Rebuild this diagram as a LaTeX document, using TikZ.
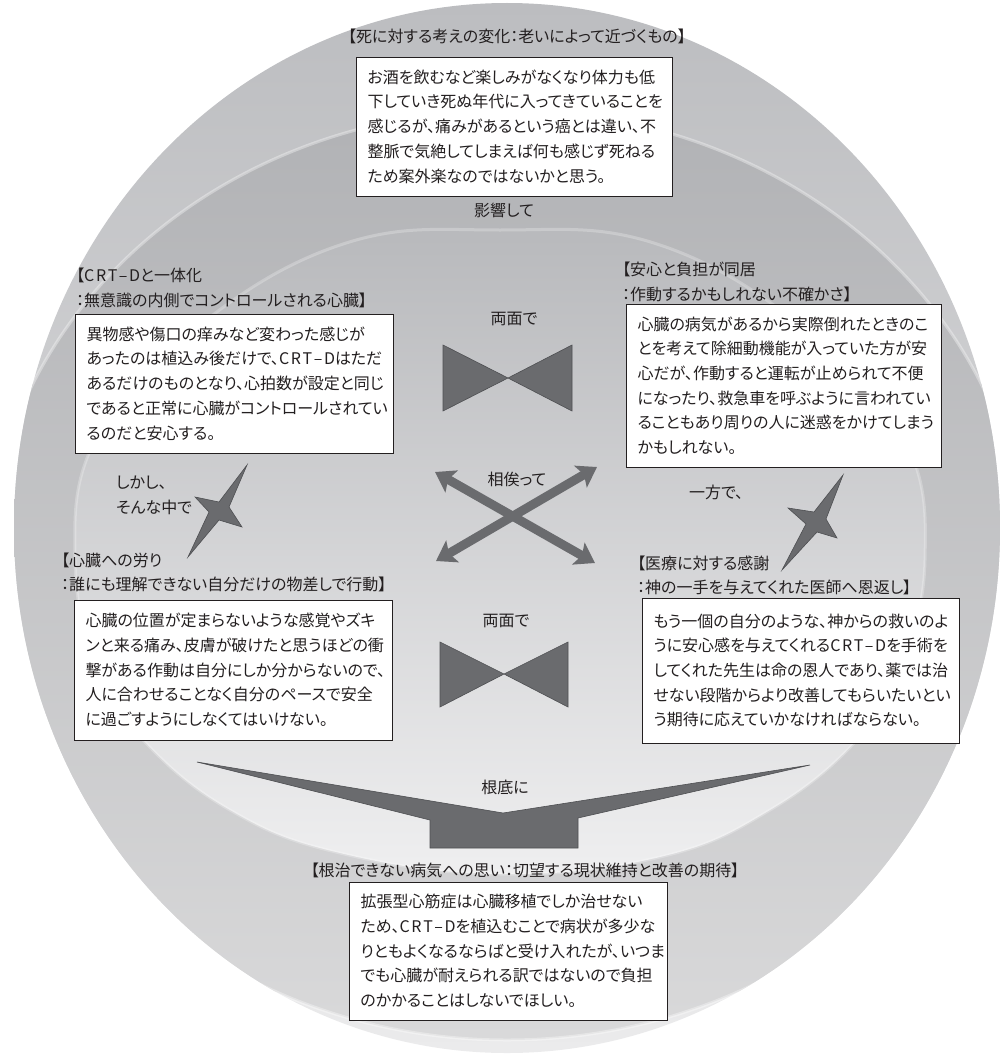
\documentclass[tikz,border=0pt]{standalone}
\usepackage{fontspec}
\setmainfont{Noto Sans CJK JP}[RawFeature={+palt}]
\usetikzlibrary{arrows.meta}
\definecolor{txt}{HTML}{231F20}
\definecolor{shapegray}{HTML}{6A6B6E}
\definecolor{shapeedge}{HTML}{4E4F52}
\definecolor{bgA}{HTML}{BCBDC0}
\definecolor{bgAb}{HTML}{EBEBEC}
\definecolor{bgB}{HTML}{B1B2B5}
\definecolor{bgBb}{HTML}{D9D9DA}
\definecolor{bgC}{HTML}{B8B9BC}
\definecolor{bgCb}{HTML}{EFEFF0}
\newcommand{\CRTD}{\mbox{C\kern1.6pt R\kern1.6pt T\kern1.6pt –\kern1.6pt D}}
\tikzset{
  textbox/.style={draw=txt, line width=0.8pt, fill=white, align=left,
    inner xsep=11.5pt, inner ysep=0pt, text=txt,
    font=\fontsize{16pt}{24.7pt}\selectfont},
  lbl/.style={inner sep=0pt, text=txt, font=\fontsize{16pt}{24.7pt}\selectfont},
  ttl/.style={lbl, align=left, anchor=west},
  shapefill/.style={fill=shapegray, draw=shapeedge, line width=0.6pt, line join=miter},
  dblarrow/.style={draw=shapegray, line width=9pt,
    {Stealth[length=19pt,width=25pt,inset=4pt]}-{Stealth[length=19pt,width=25pt,inset=4pt]}},
  edgeglow/.style={draw=white, opacity=0.35, line width=3pt}
}
\begin{document}
\begin{tikzpicture}[x=1pt,y=-1pt]
\useasboundingbox (0,0) rectangle (1001,1057);
% background layers
\shade[top color=bgA, bottom color=bgAb] (507,528) ellipse [x radius=493, y radius=525];
\begin{scope}
  \clip (507,528) ellipse [x radius=493, y radius=525];
  \shade[top color=bgB, bottom color=bgBb] (507,575) ellipse [x radius=520, y radius=465];
  \path[edgeglow] (507,575) ellipse [x radius=520, y radius=465];
\end{scope}
\shade[top color=bgC, bottom color=bgCb] plot[smooth cycle, tension=0.7] coordinates {
  (500,230) (660,245) (813,335) (905,440) (925,560) (900,670) (857,740) (770,810)
  (660,857) (500,874) (340,853) (230,810) (143,740) (98,670) (75,560) (95,440)
  (187,335) (340,245)};
\path[edgeglow, opacity=0.25] plot[smooth cycle, tension=0.7] coordinates {
  (500,230) (660,245) (813,335) (905,440) (925,560) (900,670) (857,740) (770,810)
  (660,857) (500,874) (340,853) (230,810) (143,740) (98,670) (75,560) (95,440)
  (187,335) (340,245)};

% top
\node[lbl] (ttop) at (517,36) {【死に対する考えの変化：老いによって近づくもの】};
\node[textbox, minimum width=316pt, minimum height=139pt, text width=293pt] (btop) at (514,126.5) {%
お酒を飲むなど楽しみがなくなり体力も低\\
下していき死ぬ年代に入ってきていることを\\
感じるが、痛みがあるという癌とは違い、不\\
整脈で気絶してしまえば何も感じず死ねる\\
ため案外楽なのではないかと思う。};
\node[lbl] (linf) at (504,210) {影響して};

% left top
\node[ttl] (tlt) at (76,288) {【\CRTD と一体化\\：無意識の内側でコントロールされる心臓】};
\node[textbox, minimum width=318pt, minimum height=139pt, text width=295pt] (blt) at (234,383.5) {%
異物感や傷口の痒みなど変わった感じが\\
あったのは植込み後だけで、\CRTD はただ\\
あるだけのものとなり、心拍数が設定と同じ\\
であると正常に心臓がコントロールされてい\\
るのだと安心する。};

% right top
\node[ttl] (trt) at (622,282) {【安心と負担が同居\\：作動するかもしれない不確かさ】};
\node[textbox, minimum width=315pt, minimum height=163pt, text width=292pt] (brt) at (783.5,385.5) {%
心臓の病気があるから実際倒れたときのこ\\
とを考えて除細動機能が入っていた方が安\\
心だが、作動すると運転が止められて不便\\
になったり、救急車を呼ぶように言われてい\\
ることもあり周りの人に迷惑をかけてしまう\\
かもしれない。};

% center
\node[lbl] (lboth1) at (514,319) {両面で};
\fill[shapefill] (443,345) -- (508,378) -- (572,345) -- (572,411) -- (508,378) -- (443,411) -- cycle;
\node[lbl] (lmutual) at (517,479) {相俟って};
\coordinate (a1s) at (435,472);
\coordinate (a1e) at (595,563);
\coordinate (a2s) at (436,561);
\coordinate (a2e) at (597,467);
\draw[dblarrow] (a1s) -- (a1e);
\draw[dblarrow] (a2s) -- (a2e);
\node[lbl] (lboth2) at (506,621) {両面で};
\fill[shapefill] (440,642) -- (504,674) -- (568,642) -- (568,707) -- (504,674) -- (440,707) -- cycle;

% left star
\node[ttl] (lhowever) at (116,495) {しかし、\\そんな中で};
\fill[shapefill] (247,465) -- (229,507) -- (242,527) -- (219,520) -- (188,557) -- (209,512) -- (195,497) -- (219,502) -- cycle;

% right star
\node[lbl, anchor=west] (lother) at (689,492) {一方で、};
\fill[shapefill] (843,475) -- (826,519) -- (837,538) -- (817,532) -- (782,570) -- (806,524) -- (788,508) -- (814,512) -- cycle;

% left bottom
\node[ttl] (tlb) at (61,572.5) {【心臓への労り\\：誰にも理解できない自分だけの物差しで行動】};
\node[textbox, minimum width=318pt, minimum height=140pt, text width=295pt] (blb) at (233,670) {%
心臓の位置が定まらないような感覚やズキ\\
ンと来る痛み、皮膚が破けたと思うほどの衝\\
撃がある作動は自分にしか分からないので、\\
人に合わせることなく自分のペースで安全\\
に過ごすようにしなくてはいけない。};

% right bottom
\node[ttl] (trb) at (637,575.5) {【医療に対する感謝\\：神の一手を与えてくれた医師へ恩返し】};
\node[textbox, minimum width=317pt, minimum height=145pt, text width=294pt] (brb) at (800.5,670.5) {%
もう一個の自分のような、神からの救いのよ\\
うに安心感を与えてくれる\CRTD を手術を\\
してくれた先生は命の恩人であり、薬では治\\
せない段階からより改善してもらいたいとい\\
う期待に応えていかなければならない。};

% funnel
\fill[shapefill] (197,762) -- (503,813) -- (810,765) -- (578,818) -- (578,848) -- (430,848) -- (430,820) -- cycle;
\node[lbl] (lroot) at (505,787) {根底に};

% bottom
\node[lbl] (tbot) at (525,870) {【根治できない病気への思い：切望する現状維持と改善の期待】};
\node[textbox, minimum width=318pt, minimum height=138pt, text width=295pt] (bbot) at (508,951) {%
拡張型心筋症は心臓移植でしか治せない\\
ため、\CRTD を植込むことで病状が多少な\\
りともよくなるならばと受け入れたが、いつま\\
でも心臓が耐えられる訳ではないので負担\\
のかかることはしないでほしい。};
\end{tikzpicture}
\end{document}
